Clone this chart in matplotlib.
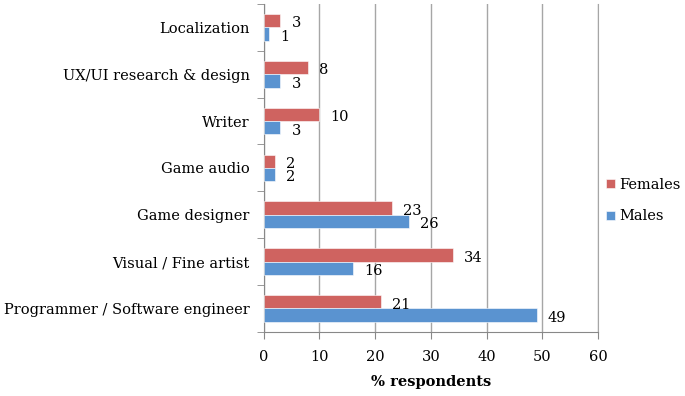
import numpy as np
import matplotlib.pyplot as plt

categories = ['Localization', 'UX/UI research & design', 'Writer', 'Game audio',
              'Game designer', 'Visual / Fine artist', 'Programmer / Software engineer']
females = [3, 8, 10, 2, 23, 34, 21]
males = [1, 3, 3, 2, 26, 16, 49]
xticks = [0, 10, 20, 30, 40, 50, 60]

plt.rcParams['font.family'] = ['DejaVu Serif']
red = '#CF6360'
blue = '#5A93D0'

fig = plt.figure(figsize=(6.85, 3.96), dpi=100)
ax = fig.add_axes([0.385, 0.162, 0.488, 0.828])

y = np.arange(len(categories))
h = 0.285
bf = ax.barh(y - h / 2, females, height=h, color=red, edgecolor='white', linewidth=0.4, label='Females', zorder=3)
bm = ax.barh(y + h / 2, males, height=h, color=blue, edgecolor='white', linewidth=0.4, label='Males', zorder=3)

for b, v in zip(bf, females):
    ax.annotate(str(v), (b.get_width(), b.get_y() + b.get_height() / 2), xytext=(8, -2),
                textcoords='offset points', ha='left', va='center', fontsize=10.5)
for b, v in zip(bm, males):
    ax.annotate(str(v), (b.get_width(), b.get_y() + b.get_height() / 2), xytext=(8, -2),
                textcoords='offset points', ha='left', va='center', fontsize=10.5)

ax.set_ylim(len(categories) - 0.5, -0.5)
ax.set_xlim(0, 60)
ax.set_xticks(xticks)
ax.set_yticks(y)
ax.set_yticklabels(categories, fontsize=10.5)
ax.set_yticks(np.arange(len(categories) + 1) - 0.5, minor=True)
ax.tick_params(axis='y', which='major', length=0, pad=10)
ax.tick_params(axis='y', which='minor', length=5, color='#888888', direction='out')
ax.tick_params(axis='x', length=5, color='#888888', labelsize=10.5, pad=8)
ax.grid(axis='x', color='#a6a6a6', linewidth=1, zorder=0)
ax.spines['top'].set_visible(False)
ax.spines['right'].set_color('#a6a6a6')
for s in ['left', 'bottom']:
    ax.spines[s].set_color('#888888')
ax.set_xlabel('% respondents', fontsize=10.5, fontweight='bold', labelpad=8)

ax.legend(loc='center left', bbox_to_anchor=(1.025, 0.40), frameon=False, fontsize=10.5,
          borderpad=0, borderaxespad=0, handlelength=0.6, handleheight=0.6,
          handletextpad=0.3, labelspacing=1.2)

fig.savefig('out.png', dpi=100)
